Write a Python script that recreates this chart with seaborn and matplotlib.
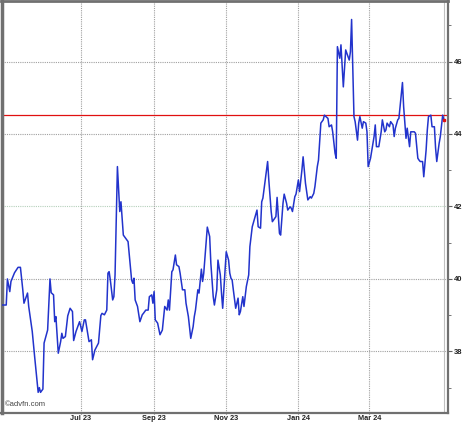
import numpy as np
import pandas as pd
import matplotlib
matplotlib.use("Agg")
import matplotlib.pyplot as plt
import matplotlib.dates as mdates
import seaborn as sns

# days offset from 2023-07-01 and closing prices
days = [-67, -63, -62, -60, -59, -56, -53, -51, -49, -48, -45, -44, -41, -39, -36, -35, -34, -32,
        -31, -28, -26, -25, -23, -22, -21, -19, -17, -16, -15, -13, -11, -9, -7, -6, -4, -1,
        1, 3, 4, 7, 9, 10, 12, 15, 17, 18, 20, 22, 23, 24, 25, 27, 28, 29, 31, 33, 34, 36, 38, 40,
        43, 44, 45, 46, 48, 50, 52, 53, 55, 57, 58, 60, 61, 62, 63, 65, 67, 69, 71, 73, 74, 75,
        77, 78, 80, 81, 83, 84, 86, 88, 89, 91, 93, 95, 96, 97, 99, 100, 102, 103, 104, 106, 107,
        109, 110, 112, 113, 115, 116, 118, 119, 120, 122, 123, 125, 126, 127, 128, 129, 131, 133,
        134, 135, 137, 138, 140, 142, 143, 145, 147, 149, 150, 152, 153, 154, 158, 159, 161, 162,
        165, 166, 168, 169, 171, 172, 174, 175, 177, 178, 179, 181, 182, 184, 185, 187, 188, 190,
        192, 194, 195, 197, 198, 200, 201, 203, 205, 206, 209, 210, 212, 213, 215, 216, 217, 219,
        220, 222, 224, 227, 228, 229, 231, 232, 234, 235, 236, 238, 239, 241, 242, 243, 245, 248,
        249, 250, 252, 254, 255, 257, 258, 259, 261, 262, 264, 265, 266, 268, 269, 272, 273, 275,
        276, 278, 279, 282, 283, 285, 286, 287, 289, 290, 292, 293, 294, 296, 297, 299, 300, 301,
        303, 304, 306, 307]
prices = [39.28, 39.28, 40.00, 39.65, 39.93, 40.17, 40.32, 40.32, 39.70, 39.33, 39.61, 39.24,
          38.55, 37.86, 36.87, 37.00, 36.87, 36.96, 38.23, 38.59, 40.00, 39.62, 39.56, 38.82,
          38.96, 37.95, 38.27, 38.50, 38.36, 38.41, 38.98, 39.19, 39.10, 38.30, 38.55, 38.82,
          38.55, 38.87, 38.87, 38.27, 38.32, 37.77, 38.04, 38.23, 38.99, 39.05, 39.01, 39.14,
          40.16, 40.20, 39.97, 39.42, 39.51, 40.11, 43.10, 41.86, 42.13, 41.21, 41.12, 41.03,
          39.97, 39.88, 40.02, 39.42, 39.24, 38.82, 39.01, 39.05, 39.14, 39.14, 39.51, 39.56,
          39.33, 39.65, 38.87, 38.78, 38.46, 38.59, 39.24, 39.14, 39.42, 39.14, 40.20, 40.25,
          40.66, 40.39, 40.34, 40.16, 39.70, 39.70, 39.33, 38.96, 38.36, 38.68, 38.96, 39.14,
          39.70, 39.61, 40.27, 39.93, 40.16, 41.03, 41.43, 41.17, 40.43, 39.51, 39.28, 39.70,
          40.52, 40.11, 39.61, 39.19, 40.20, 40.75, 40.52, 40.16, 40.02, 39.97, 39.70, 39.19,
          39.47, 39.01, 39.10, 39.51, 39.24, 39.79, 40.11, 40.89, 41.44, 41.67, 41.90, 41.44,
          41.40, 42.13, 42.23, 43.24, 42.73, 41.86, 41.58, 41.72, 42.25, 41.26, 41.21, 42.09,
          42.34, 42.09, 41.90, 41.99, 41.95, 41.86, 42.27, 42.34, 42.73, 42.41, 43.01, 43.37,
          42.64, 42.18, 42.27, 42.23, 42.36, 42.55, 43.10, 43.28, 44.30, 44.39, 44.52, 44.43,
          44.20, 44.25, 44.06, 43.47, 43.33, 46.41, 46.09, 46.46, 45.30, 46.32, 46.04, 46.27,
          47.16, 44.48, 44.34, 43.83, 44.30, 44.48, 44.16, 44.34, 44.30, 44.06, 43.10, 43.33,
          43.93, 44.25, 43.65, 43.65, 44.06, 44.39, 44.06, 44.11, 44.30, 44.20, 44.34, 44.25,
          43.93, 44.16, 44.39, 44.43, 45.42, 44.75, 43.88, 44.16, 43.65, 44.06, 44.06, 44.02,
          43.33, 43.28, 43.24, 43.24, 42.82, 43.56, 44.11, 44.48, 44.52, 44.20, 44.20, 43.61,
          43.24, 43.74, 43.93, 44.52, 44.39]
ref_level = 44.52
y_ticks = [38, 40, 42, 44, 46]
x_tick_dates = ["2023-07-01", "2023-09-01", "2023-11-01", "2024-01-01", "2024-03-01"]
x_tick_labels = ["Jul 23", "Sep 23", "Nov 23", "Jan 24", "Mar 24"]

origin = pd.Timestamp("2023-07-01")
df = pd.DataFrame({"date": origin + pd.to_timedelta(days, unit="D"), "price": prices})

sns.set_style("white")
plt.rcParams["font.family"] = ["Liberation Sans", "DejaVu Sans"]

fig = plt.figure(figsize=(4.74, 4.24), dpi=100)
ax = fig.add_axes([1.5 / 474, 1 - 413 / 424, 446.5 / 474, 412 / 424])

# grid lines
for yv in y_ticks:
    col = "#b5d0bb" if yv == 42 else "#a0a0a0"
    ax.axhline(yv, color=col, lw=0.8, ls=(0, (1, 1)), zorder=1)
tick_dates = pd.to_datetime(x_tick_dates)
for td in tick_dates:
    ax.axvline(td, color="#a0a0a0", lw=0.8, ls=(0, (1, 1)), zorder=1)
ax.axvline(df["date"].iloc[-1], color="#c0c0c0", lw=0.8, zorder=1)

ax.axhline(ref_level, color="#e01010", lw=0.9, zorder=2)
sns.lineplot(data=df, x="date", y="price", ax=ax, color="#2233cc", lw=1.1, zorder=3)
ax.plot([df["date"].iloc[-1]], [df["price"].iloc[-1]], marker="s", ms=1.8,
        color="#e01010", mec="#e01010", ls="none", zorder=4)

ax.set_xlim(origin - pd.Timedelta(days=67), origin + pd.Timedelta(days=310.5))
ax.set_ylim(36.3, 47.67)

ax.set_xticks(tick_dates)
ax.set_xticklabels(x_tick_labels)
ax.yaxis.tick_right()
ax.set_yticks(y_ticks)
ax.set_yticklabels([str(v) for v in y_ticks])
ax.set_yticks([37, 39, 41, 43, 45, 47], minor=True)
ax.tick_params(axis="y", which="major", labelsize=5.5, length=3, width=0.8,
               color="#606060", labelcolor="#222222", pad=1.5)
ax.tick_params(axis="x", which="major", labelsize=5.3, length=2, width=0.8,
               direction="inout", color="#606060", labelcolor="#222222", pad=0.3, bottom=True)
ax.tick_params(axis="y", which="minor", length=2, width=0.6, color="#606060", right=True)
for lab in ax.get_xticklabels() + ax.get_yticklabels():
    lab.set_fontweight("bold")
ax.set_xlabel("")
ax.set_ylabel("")

for side, w in [("left", 2.5), ("top", 2.0), ("right", 1.6), ("bottom", 1.6)]:
    ax.spines[side].set_visible(True)
    ax.spines[side].set_color("#707070")
    ax.spines[side].set_linewidth(w)

ax.text(0.008, 0.012, "©advfn.com", transform=ax.transAxes, fontsize=5.5,
        color="#444444", ha="left", va="bottom")

fig.savefig("out.png", dpi=100)
